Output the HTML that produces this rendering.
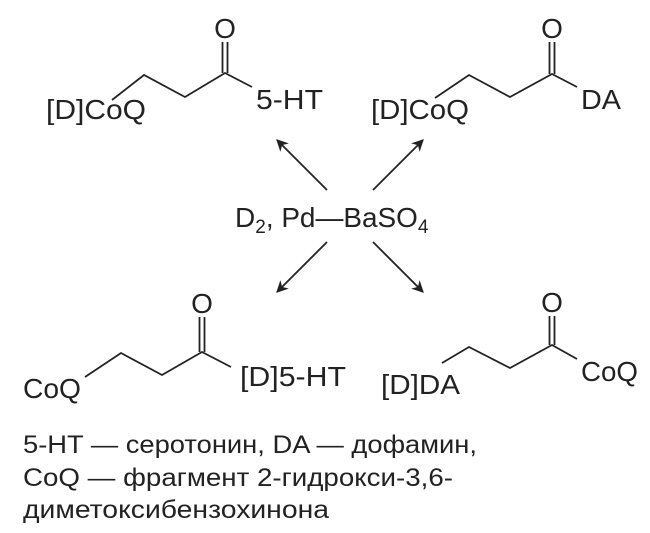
<!DOCTYPE html>
<html><head><meta charset="utf-8"><style>body{margin:0;background:#fff}svg{display:block}</style></head><body>
<svg width="650" height="533" viewBox="0 0 650 533" xmlns="http://www.w3.org/2000/svg" font-family="Liberation Sans, sans-serif" fill="#222">
<defs><marker id="a" viewBox="0 0 10 10" refX="9" refY="5" markerWidth="14" markerHeight="12" markerUnits="userSpaceOnUse" orient="auto"><path d="M0,0 L10,5 L0,10 L3,5 Z" fill="#222"/></marker></defs>
<g stroke="#222" stroke-width="1.8" fill="none">
<polyline points="112,100 144,75 185,97 225,73 252,87"/>
<line x1="222.5" y1="42" x2="222.5" y2="73"/><line x1="227.5" y1="42" x2="227.5" y2="73"/>
<polyline points="435,98 469,75 510,97 552,74 577,87"/>
<line x1="549.5" y1="42" x2="549.5" y2="74"/><line x1="554.5" y1="42" x2="554.5" y2="74"/>
<polyline points="85,377 121,353 162,375 202,352 231,367"/>
<line x1="199.5" y1="317" x2="199.5" y2="352"/><line x1="204.5" y1="317" x2="204.5" y2="352"/>
<polyline points="442,363 469,347 510,368 552,345 577,359"/>
<line x1="549.5" y1="316" x2="549.5" y2="345"/><line x1="554.5" y1="316" x2="554.5" y2="345"/>
<line x1="327" y1="190" x2="277" y2="140" marker-end="url(#a)"/>
<line x1="373" y1="190" x2="423" y2="140" marker-end="url(#a)"/>
<line x1="327" y1="242" x2="277" y2="292" marker-end="url(#a)"/>
<line x1="373" y1="242" x2="423" y2="292" marker-end="url(#a)"/>
</g>
<g font-size="28">
<text x="225" y="38" text-anchor="middle">O</text>
<text x="552" y="38" text-anchor="middle">O</text>
<text x="202" y="313" text-anchor="middle">O</text>
<text x="552" y="312" text-anchor="middle">O</text>
<text x="46" y="119" textLength="100" lengthAdjust="spacingAndGlyphs">[D]CoQ</text>
<text x="256" y="109" textLength="67" lengthAdjust="spacingAndGlyphs">5-HT</text>
<text x="371" y="119" textLength="98" lengthAdjust="spacingAndGlyphs">[D]CoQ</text>
<text x="581" y="109" textLength="40" lengthAdjust="spacingAndGlyphs">DA</text>
<text x="23" y="398" textLength="58" lengthAdjust="spacingAndGlyphs">CoQ</text>
<text x="240" y="386" textLength="106" lengthAdjust="spacingAndGlyphs">[D]5-HT</text>
<text x="381" y="394" textLength="79" lengthAdjust="spacingAndGlyphs">[D]DA</text>
<text x="581" y="381" textLength="57" lengthAdjust="spacingAndGlyphs">CoQ</text>
<text x="235" y="227">D<tspan font-size="19" dy="6">2</tspan><tspan dy="-6" textLength="152" lengthAdjust="spacingAndGlyphs">, Pd—BaSO</tspan><tspan font-size="19" dy="6">4</tspan></text>
</g>
<g font-size="25">
<text x="23" y="453" textLength="454" lengthAdjust="spacingAndGlyphs">5-HT — серотонин, DA — дофамин,</text>
<text x="23" y="486" textLength="430" lengthAdjust="spacingAndGlyphs">CoQ — фрагмент 2-гидрокси-3,6-</text>
<text x="23" y="518" textLength="306" lengthAdjust="spacingAndGlyphs">диметоксибензохинона</text>
</g>
</svg>
</body></html>
